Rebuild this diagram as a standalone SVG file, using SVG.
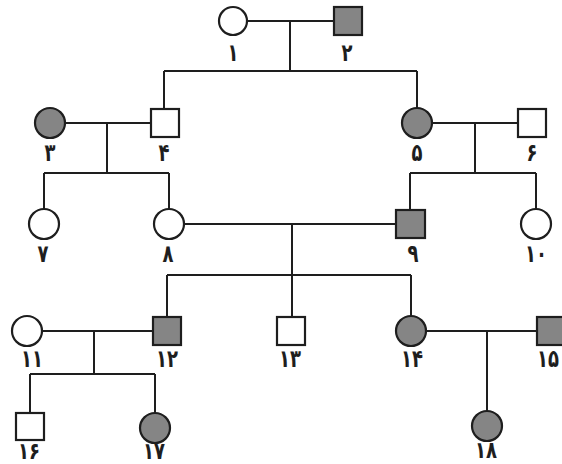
<svg xmlns="http://www.w3.org/2000/svg" width="562" height="464" viewBox="0 0 562 464">
<style>
.ln{stroke:#1e1e1e;stroke-width:2;fill:none}
.n{stroke:#1e1e1e;stroke-width:2.2;fill:#fff}
.a{stroke:#1e1e1e;stroke-width:2.2;fill:#858585}
.t{font-family:"DejaVu Sans",sans-serif;font-size:18px;font-weight:bold;fill:#1e1e1e;text-anchor:middle}
</style>
<rect width="562" height="464" fill="#fff"/>
<g id="connectors">
<path class="ln" d="M247 21H334M290 21V71M164 71H417M164 71V109M417 71V108"/>
<path class="ln" d="M65 123H151M107 123V173M44 173H169M44 173V209M169 173V209"/>
<path class="ln" d="M432 123H518M475 123V173M410 173H536M410 173V210M536 173V209"/>
<path class="ln" d="M184 224H396M292 224V275M167 275H411M167 275V317M292 275V317M411 275V316"/>
<path class="ln" d="M42 331H153M94 331V374M30 374H155M30 374V413M155 374V413"/>
<path class="ln" d="M426 331H537M487 331V412"/>
</g>
<g id="n1"><circle class="n" cx="233" cy="21" r="14"/><text class="t" transform="translate(233 61) scale(1 1.35)">۱</text></g>
<g id="n2"><rect class="a" x="334" y="7" width="28" height="28"/><text class="t" transform="translate(347 61) scale(1 1.35)">۲</text></g>
<g id="n3"><circle class="a" cx="50" cy="123" r="15"/><text class="t" transform="translate(50 161) scale(1 1.35)">۳</text></g>
<g id="n4"><rect class="n" x="151" y="109" width="28" height="28"/><text class="t" transform="translate(164 161) scale(1 1.35)">۴</text></g>
<g id="n5"><circle class="a" cx="417" cy="123" r="15"/><text class="t" transform="translate(417 161) scale(1 1.35)">۵</text></g>
<g id="n6"><rect class="n" x="518" y="109" width="28" height="28"/><text class="t" transform="translate(532 161) scale(1 1.35)">۶</text></g>
<g id="n7"><circle class="n" cx="44" cy="224" r="15"/><text class="t" transform="translate(43 262) scale(1 1.35)">۷</text></g>
<g id="n8"><circle class="n" cx="169" cy="224" r="15"/><text class="t" transform="translate(168 262) scale(1 1.35)">۸</text></g>
<g id="n9"><rect class="a" x="396" y="210" width="29" height="28"/><text class="t" transform="translate(413 262) scale(1 1.35)">۹</text></g>
<g id="n10"><circle class="n" cx="536" cy="224" r="15"/><text class="t" transform="translate(536 262) scale(1 1.35)">۱۰</text></g>
<g id="n11"><circle class="n" cx="27" cy="331" r="15"/><text class="t" transform="translate(32 367) scale(1 1.35)">۱۱</text></g>
<g id="n12"><rect class="a" x="153" y="317" width="28" height="28"/><text class="t" transform="translate(167 367) scale(1 1.35)">۱۲</text></g>
<g id="n13"><rect class="n" x="277" y="317" width="28" height="28"/><text class="t" transform="translate(290 367) scale(1 1.35)">۱۳</text></g>
<g id="n14"><circle class="a" cx="411" cy="331" r="15"/><text class="t" transform="translate(412 367) scale(1 1.35)">۱۴</text></g>
<g id="n15"><rect class="a" x="537" y="317" width="28" height="28"/><text class="t" transform="translate(548 367) scale(1 1.35)">۱۵</text></g>
<g id="n16"><rect class="n" x="16" y="413" width="28" height="27"/><text class="t" transform="translate(29 458.5) scale(1 1.3)">۱۶</text></g>
<g id="n17"><circle class="a" cx="155" cy="428" r="15"/><text class="t" transform="translate(154 458.5) scale(1 1.3)">۱۷</text></g>
<g id="n18"><circle class="a" cx="487" cy="426" r="15"/><text class="t" transform="translate(486 458) scale(1 1.3)">۱۸</text></g>
</svg>
